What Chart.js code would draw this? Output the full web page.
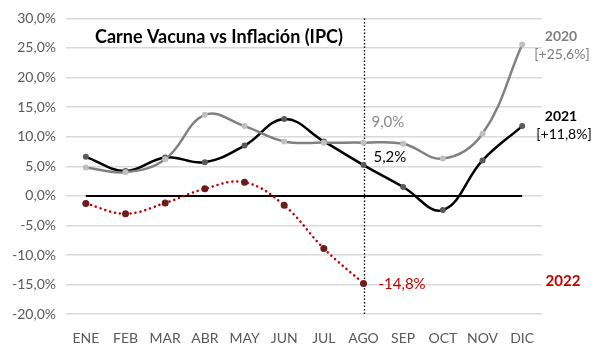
<!DOCTYPE html>
<html><head><meta charset="utf-8">
<script src="https://cdn.jsdelivr.net/npm/chart.js@4/dist/chart.umd.min.js"></script>
<style>html,body{margin:0;padding:0;background:#fff}#w{width:600px;height:355px}</style>
</head><body><div id="w"><canvas id="c"></canvas></div>
<script>
const months = ["ENE","FEB","MAR","ABR","MAY","JUN","JUL","AGO","SEP","OCT","NOV","DIC"];
const v2020 = [4.8,4.0,6.2,13.7,11.8,9.2,9.0,9.0,8.8,6.3,10.5,25.6];
const v2021 = [6.6,4.2,6.5,5.7,8.5,13.0,9.2,5.2,1.5,-2.4,6.0,11.8];
const v2022 = [-1.3,-3.0,-1.2,1.2,2.3,-1.6,-8.9,-14.8,null,null,null,null];
const yTicks = [30,25,20,15,10,5,0,-5,-10,-15,-20];
const FONT = "Lato, 'Open Sans', sans-serif";

const overlay = {
  id:'overlay',
  beforeDatasetsDraw(ch){
    const {ctx, scales:{x,y}} = ch;
    ctx.save();
    ctx.strokeStyle='#000'; ctx.lineWidth=2;
    ctx.beginPath(); ctx.moveTo(x.getPixelForValue(0), y.getPixelForValue(0));
    ctx.lineTo(x.getPixelForValue(11), y.getPixelForValue(0)); ctx.stroke();
    ctx.strokeStyle='#000'; ctx.lineWidth=1.3; ctx.setLineDash([1.5,2]);
    const ax = Math.round(x.getPixelForValue(7))+0.5;
    ctx.beginPath(); ctx.moveTo(ax, y.getPixelForValue(30)); ctx.lineTo(ax, y.getPixelForValue(-20)); ctx.stroke();
    ctx.restore();
  },
  afterDatasetsDraw(ch){
    const {ctx, scales:{x,y}} = ch;
    ctx.save();
    ctx.textBaseline='middle'; ctx.textAlign='left';
    ctx.font = "bold 18px "+FONT; ctx.fillStyle='#000';
    ctx.fillText("Carne Vacuna vs Inflación (IPC)", 95, 37);
    ctx.font = "15px "+FONT;
    ctx.fillStyle='#8c8c8c'; ctx.fillText("9,0%", x.getPixelForValue(7)+8, y.getPixelForValue(12.5));
    ctx.fillStyle='#000'; ctx.fillText("5,2%", x.getPixelForValue(7)+10, y.getPixelForValue(6.6));
    ctx.fillStyle='#c00000'; ctx.fillText("-14,8%", x.getPixelForValue(7)+15, y.getPixelForValue(-14.9));
    ctx.textAlign='center';
    ctx.font = "bold 14px "+FONT; ctx.fillStyle='#808080'; ctx.fillText("2020", 561, 36);
    ctx.font = "14px "+FONT; ctx.fillText("[+25,6%]", 562, 54);
    ctx.font = "bold 14px "+FONT; ctx.fillStyle='#000'; ctx.fillText("2021", 561, 116);
    ctx.font = "14px "+FONT; ctx.fillText("[+11,8%]", 564, 134);
    ctx.font = "bold 15px "+FONT; ctx.fillStyle='#c00000'; ctx.fillText("2022", 563, 281);
    ctx.restore();
  }
};

new Chart(document.getElementById('c'), {
  type:'line',
  data:{labels:months, datasets:[
    {label:'2020', data:v2020, borderColor:'#808080', borderWidth:2.5, pointRadius:3, pointBackgroundColor:'#c0c0c0', pointBorderWidth:0, tension:0.4},
    {label:'2021', data:v2021, borderColor:'#000000', borderWidth:2.5, pointRadius:3, pointBackgroundColor:'#5a5a5a', pointBorderWidth:0, tension:0.4},
    {label:'2022', data:v2022, borderColor:'#c00000', borderWidth:2.5, borderDash:[0.1,5], borderCapStyle:'round', pointRadius:3.5, pointBackgroundColor:'#6b1c1c', pointBorderWidth:0, tension:0.4}
  ]},
  options:{
    responsive:true, maintainAspectRatio:false, animation:false,
    layout:{padding:{top:10, right:58, left:0, bottom:0}},
    plugins:{legend:{display:false}, tooltip:{enabled:false}},
    scales:{
      x:{offset:true, grid:{display:false}, border:{display:false},
         ticks:{color:'#595959', font:{family:FONT, size:14}, padding:8}},
      y:{min:-20, max:30, afterBuildTicks(s){s.ticks = yTicks.map(v=>({value:v}));},
         afterFit(s){s.width=66;},
         grid:{color:'#d9d9d9', lineWidth:1.5, drawTicks:false}, border:{display:false},
         ticks:{color:'#595959', font:{family:FONT, size:14}, padding:10,
           callback:v=>v.toFixed(1).replace('.',',')+'%'}}
    }
  },
  plugins:[overlay]
});
</script></body></html>
